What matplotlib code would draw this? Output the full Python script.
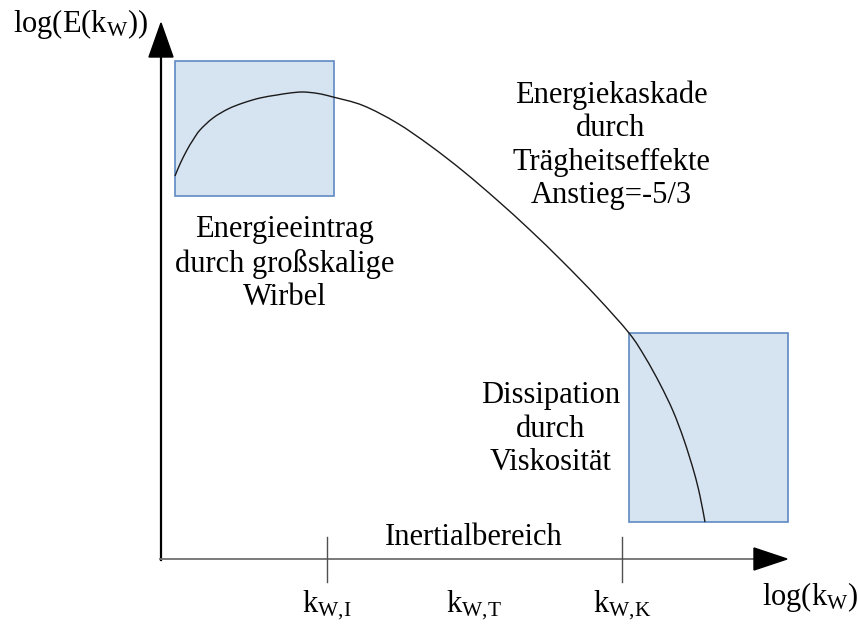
import matplotlib
matplotlib.use("Agg")
import matplotlib.pyplot as plt
from matplotlib.patches import Rectangle, Polygon, PathPatch
from matplotlib.path import Path

plt.rcParams['font.family'] = ['Liberation Serif', 'DejaVu Serif']
plt.rcParams['mathtext.fontset'] = 'custom'
plt.rcParams['mathtext.rm'] = 'Liberation Serif'
plt.rcParams['mathtext.it'] = 'Liberation Serif:italic'

# Energy spectrum sketch (canvas units, y grows downward)
curve_x = [175, 180, 187, 193, 200, 213, 228, 243, 260, 277, 290, 303, 318, 333,
           363, 397, 430, 463, 497, 530, 563, 597, 629, 645, 660, 673, 684,
           694, 700, 705]
curve_y = [176, 164, 150, 140, 130, 118, 109, 103, 98, 95, 93, 92, 93.5, 97,
           105.5, 123, 145.5, 171, 200, 230, 262, 297, 333, 357, 384, 411, 440,
           472, 496, 522]

tick_pos = [327, 474, 622]
tick_labels = [r'$\mathrm{k_{W{,}I}}$', r'$\mathrm{k_{W{,}T}}$', r'$\mathrm{k_{W{,}K}}$']
tick_marks = [327, 622]

# regions: (x0, y0, x1, y1)
box_input = (175, 61, 334, 196)
box_dissip = (629, 333, 788, 522)


def smooth_path(xs, ys):
    # Catmull-Rom through the points, written as cubic Bezier segments
    pts = list(zip(xs, ys))
    verts = [pts[0]]
    codes = [Path.MOVETO]
    n = len(pts)
    for i in range(n - 1):
        p0 = pts[i - 1] if i > 0 else pts[i]
        p1 = pts[i]
        p2 = pts[i + 1]
        p3 = pts[i + 2] if i + 2 < n else pts[i + 1]
        c1 = (p1[0] + (p2[0] - p0[0]) / 6, p1[1] + (p2[1] - p0[1]) / 6)
        c2 = (p2[0] - (p3[0] - p1[0]) / 6, p2[1] - (p3[1] - p1[1]) / 6)
        verts += [c1, c2, p2]
        codes += [Path.CURVE4] * 3
    return Path(verts, codes)


fig = plt.figure(figsize=(8.58, 6.30), dpi=100)
ax = fig.add_axes([0, 0, 1, 1])
ax.set_xlim(0, 858)
ax.set_ylim(630, 0)
ax.axis('off')

fill = '#d6e3f1'
edge = '#5f8ac2'
for x0, y0, x1, y1 in (box_input, box_dissip):
    ax.add_patch(Rectangle((x0, y0), x1 - x0, y1 - y0, facecolor=fill,
                           edgecolor=edge, lw=1.2, zorder=1))

ax.add_patch(PathPatch(smooth_path(curve_x, curve_y), facecolor='none',
                       edgecolor='#1a1a1a', lw=1.0, zorder=3))

# axes with arrow heads
ax.plot([160.5, 160.5], [560, 56], color='black', lw=1.6, zorder=2)
ax.add_patch(Polygon([(161, 23), (149, 57), (173, 57)], closed=True,
                     color='black', zorder=2))
ax.plot([160, 755], [559, 559], color='#707070', lw=1.3, zorder=2)
ax.add_patch(Polygon([(787, 559), (754, 548), (754, 570)], closed=True,
                     color='black', zorder=2))

for t in tick_marks:
    ax.plot([t, t], [537, 582], color='#505050', lw=1.0, zorder=2)

fs = 22
for xp, lab in zip(tick_pos, tick_labels):
    ax.text(xp, 612, lab, ha='center', va='baseline', fontsize=fs)

ax.text(13, 32, r'$\mathrm{log(E(k_W))}$', ha='left', va='baseline', fontsize=fs)
ax.text(762, 605, r'$\mathrm{log(k_W)}$', ha='left', va='baseline', fontsize=fs)

ls = 1.2
ax.text(611, 203, 'Energiekaskade\ndurch\nTrägheitseffekte\nAnstieg=-5/3',
        ha='center', va='baseline', fontsize=fs, linespacing=ls,
        multialignment='center')
ax.text(285, 305, 'Energieeintrag\ndurch großskalige\nWirbel',
        ha='center', va='baseline', fontsize=fs, linespacing=ls,
        multialignment='center')
ax.text(551, 470, 'Dissipation\ndurch\nViskosität',
        ha='center', va='baseline', fontsize=fs, linespacing=ls,
        multialignment='center')
ax.text(474, 545, 'Inertialbereich', ha='center', va='baseline', fontsize=fs)

fig.savefig('out.png', dpi=100)
